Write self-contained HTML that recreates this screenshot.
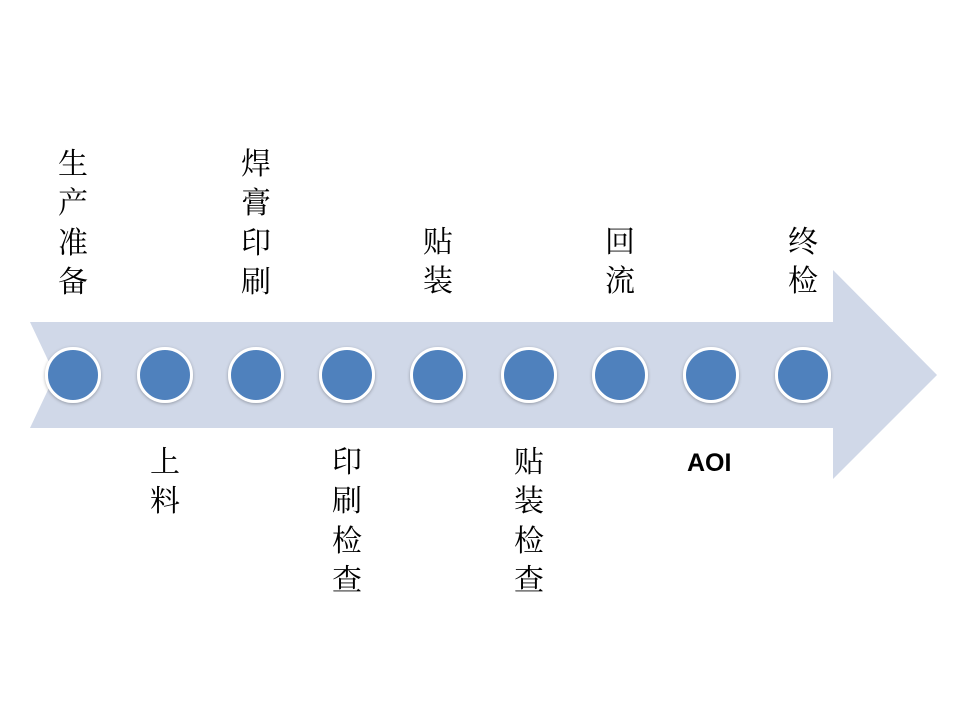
<!DOCTYPE html>
<html><head><meta charset="utf-8"><style>
body{margin:0;width:960px;height:720px;background:#fff;overflow:hidden;position:relative}
.t{position:absolute;width:40px;margin-left:-20px;text-align:center;font-family:"Liberation Serif","Noto Serif CJK SC",serif;font-size:30px;line-height:39.3px;color:#000}
.a{position:absolute;font-family:"Liberation Sans",sans-serif;font-weight:bold;font-size:25px;color:#000}
</style></head><body>
<svg width="960" height="720" style="position:absolute;left:0;top:0">
<defs><filter id="s" x="-30%" y="-30%" width="160%" height="160%"><feDropShadow dx="0" dy="1" stdDeviation="1.5" flood-opacity="0.3"/></filter></defs>
<polygon points="30,322 833,322 833,270 937,375 833,479 833,428 30,428 55,375" fill="#d0d8e8"/>
<g fill="#4f81bd" stroke="#fff" stroke-width="3" filter="url(#s)">
<circle cx="73" cy="375" r="26.5"/><circle cx="165" cy="375" r="26.5"/><circle cx="256" cy="375" r="26.5"/>
<circle cx="347" cy="375" r="26.5"/><circle cx="438" cy="375" r="26.5"/><circle cx="529" cy="375" r="26.5"/>
<circle cx="620" cy="375" r="26.5"/><circle cx="711" cy="375" r="26.5"/><circle cx="803" cy="375" r="26.5"/>
</g></svg>
<div class="t" style="left:73px;top:145px">生<br>产<br>准<br>备</div>
<div class="t" style="left:256px;top:145px">焊<br>膏<br>印<br>刷</div>
<div class="t" style="left:438px;top:223px">贴<br>装</div>
<div class="t" style="left:620px;top:223px">回<br>流</div>
<div class="t" style="left:803px;top:223px">终<br>检</div>
<div class="t" style="left:165px;top:443px">上<br>料</div>
<div class="t" style="left:347px;top:443px">印<br>刷<br>检<br>查</div>
<div class="t" style="left:529px;top:443px">贴<br>装<br>检<br>查</div>
<div class="a" style="left:687px;top:449px">AOI</div>
</body></html>
